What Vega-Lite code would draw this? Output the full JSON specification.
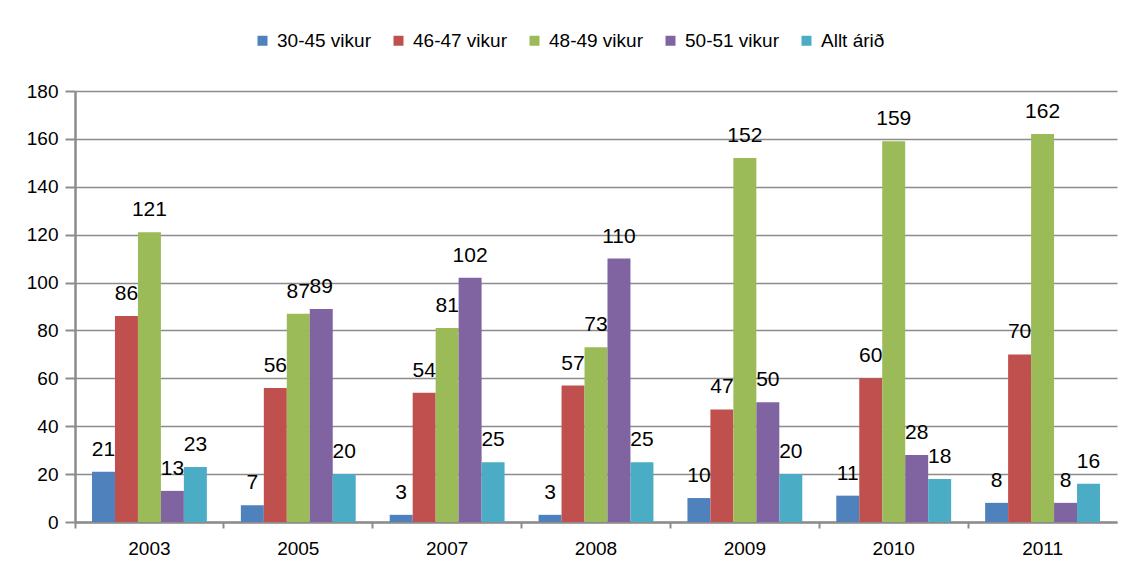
{
  "$schema": "https://vega.github.io/schema/vega-lite/v6.json",
  "width": 1042,
  "height": 431,
  "autosize": {"type": "none"},
  "padding": {"left": 75, "top": 91, "right": 20, "bottom": 54},
  "background": "white",
  "config": {
    "font": "'Liberation Sans Narrow', 'Liberation Sans', sans-serif",
    "view": {"stroke": null}
  },
  "data": {
    "values": [
      {"year": "2003", "series": "30-45 vikur", "value": 21},
      {"year": "2003", "series": "46-47 vikur", "value": 86},
      {"year": "2003", "series": "48-49 vikur", "value": 121},
      {"year": "2003", "series": "50-51 vikur", "value": 13},
      {"year": "2003", "series": "Allt árið", "value": 23},
      {"year": "2005", "series": "30-45 vikur", "value": 7},
      {"year": "2005", "series": "46-47 vikur", "value": 56},
      {"year": "2005", "series": "48-49 vikur", "value": 87},
      {"year": "2005", "series": "50-51 vikur", "value": 89},
      {"year": "2005", "series": "Allt árið", "value": 20},
      {"year": "2007", "series": "30-45 vikur", "value": 3},
      {"year": "2007", "series": "46-47 vikur", "value": 54},
      {"year": "2007", "series": "48-49 vikur", "value": 81},
      {"year": "2007", "series": "50-51 vikur", "value": 102},
      {"year": "2007", "series": "Allt árið", "value": 25},
      {"year": "2008", "series": "30-45 vikur", "value": 3},
      {"year": "2008", "series": "46-47 vikur", "value": 57},
      {"year": "2008", "series": "48-49 vikur", "value": 73},
      {"year": "2008", "series": "50-51 vikur", "value": 110},
      {"year": "2008", "series": "Allt árið", "value": 25},
      {"year": "2009", "series": "30-45 vikur", "value": 10},
      {"year": "2009", "series": "46-47 vikur", "value": 47},
      {"year": "2009", "series": "48-49 vikur", "value": 152},
      {"year": "2009", "series": "50-51 vikur", "value": 50},
      {"year": "2009", "series": "Allt árið", "value": 20},
      {"year": "2010", "series": "30-45 vikur", "value": 11},
      {"year": "2010", "series": "46-47 vikur", "value": 60},
      {"year": "2010", "series": "48-49 vikur", "value": 159},
      {"year": "2010", "series": "50-51 vikur", "value": 28},
      {"year": "2010", "series": "Allt árið", "value": 18},
      {"year": "2011", "series": "30-45 vikur", "value": 8},
      {"year": "2011", "series": "46-47 vikur", "value": 70},
      {"year": "2011", "series": "48-49 vikur", "value": 162},
      {"year": "2011", "series": "50-51 vikur", "value": 8},
      {"year": "2011", "series": "Allt árið", "value": 16}
    ]
  },
  "encoding": {
    "x": {
      "field": "year",
      "type": "nominal",
      "scale": {"paddingInner": 0, "paddingOuter": 0},
      "axis": {
        "title": null,
        "labelAngle": 0,
        "bandPosition": 0,
        "labelFontSize": 19,
        "labelColor": "#000000",
        "labelPadding": 11,
        "tickSize": 6,
        "tickColor": "#8c8c8c",
        "tickWidth": 2,
        "domainColor": "#8c8c8c",
        "domainWidth": 2.5
      }
    },
    "xOffset": {
      "field": "series",
      "sort": ["30-45 vikur", "46-47 vikur", "48-49 vikur", "50-51 vikur", "Allt árið"],
      "scale": {"paddingInner": 0, "paddingOuter": 0.74}
    },
    "y": {
      "field": "value",
      "type": "quantitative",
      "scale": {"domain": [0, 180]},
      "axis": {
        "title": null,
        "values": [0, 20, 40, 60, 80, 100, 120, 140, 160, 180],
        "labelFontSize": 19,
        "labelColor": "#000000",
        "labelPadding": 7,
        "tickSize": 10,
        "tickColor": "#8c8c8c",
        "tickWidth": 2,
        "domainColor": "#8c8c8c",
        "domainWidth": 2.5,
        "gridColor": "#8c8c8c",
        "gridWidth": 1.5
      }
    }
  },
  "layer": [
    {
      "mark": {"type": "bar"},
      "encoding": {
        "color": {
          "field": "series",
          "type": "nominal",
          "sort": ["30-45 vikur", "46-47 vikur", "48-49 vikur", "50-51 vikur", "Allt árið"],
          "scale": {
            "domain": ["30-45 vikur", "46-47 vikur", "48-49 vikur", "50-51 vikur", "Allt árið"],
            "range": ["#4F81BD", "#C0504D", "#9BBB59", "#8064A2", "#4BACC6"]
          },
          "legend": {
            "title": null,
            "orient": "none",
            "legendX": 178,
            "legendY": -60,
            "direction": "horizontal",
            "symbolType": "square",
            "symbolSize": 100,
            "symbolStrokeWidth": 0,
            "labelFontSize": 19,
            "labelColor": "#000000",
            "columnPadding": 18,
            "labelOffset": 5
          }
        }
      }
    },
    {
      "mark": {"type": "text", "dy": -22, "baseline": "middle", "fontSize": 21, "color": "#000000"},
      "encoding": {
        "text": {"field": "value", "type": "quantitative"}
      }
    }
  ]
}
